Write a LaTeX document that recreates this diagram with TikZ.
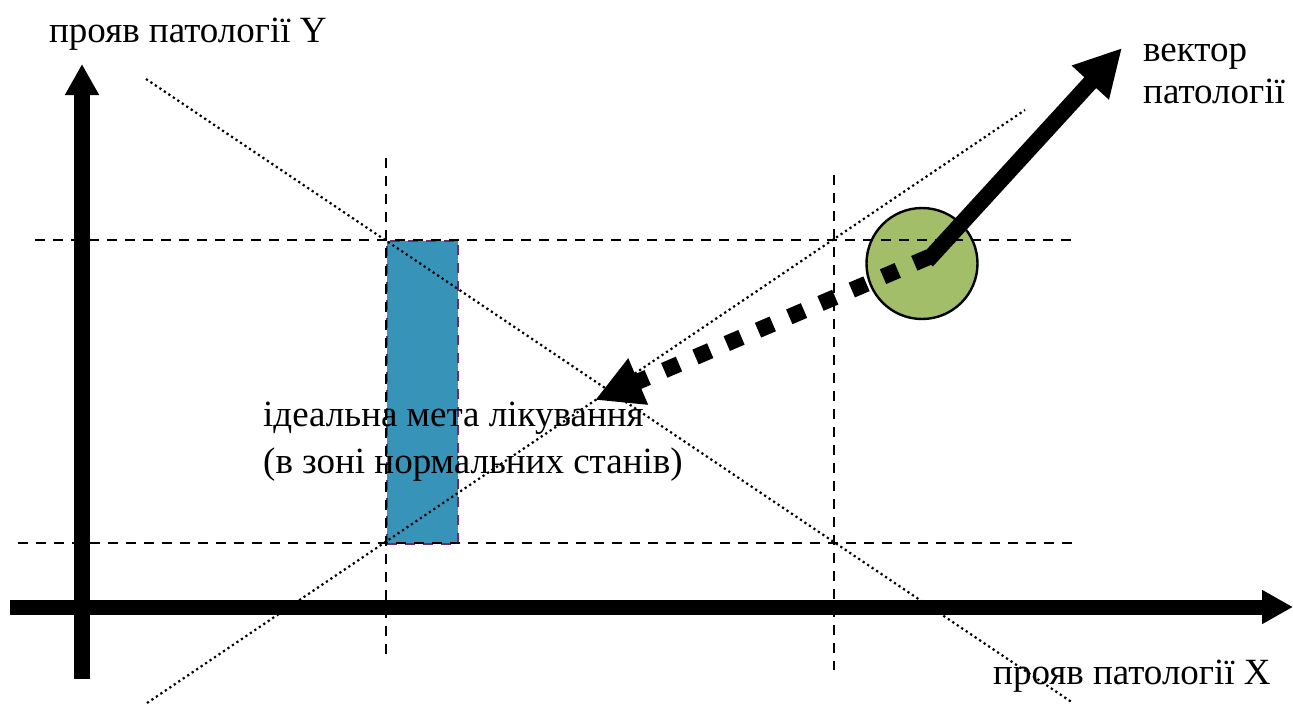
\documentclass[tikz,border=0pt]{standalone}
\usepackage{fontspec}
\setmainfont{Liberation Serif}
\usetikzlibrary{arrows.meta}
\definecolor{zoneblue}{RGB}{56,147,184}
\definecolor{zoneborder}{RGB}{112,40,110}
\definecolor{stategreen}{RGB}{162,190,105}
\begin{document}
\begin{tikzpicture}[x=1pt,y=-1pt,
  guide/.style={line width=2pt, dash pattern=on 10pt off 8pt},
  diag/.style={line width=2.2pt, dash pattern=on 2.2pt off 3.2pt},
  axisline/.style={line width=16pt, line cap=butt, -{Triangle[length=31pt,width=32pt]}},
  vecline/.style={line width=16pt, line cap=butt, -{Triangle[length=47pt,width=47pt]}},
  lbl/.style={font=\fontsize{37}{40}\selectfont, inner sep=0pt, align=left}
]
\useasboundingbox (0,0) rectangle (1293,704);
% normal zone
\node[fill=zoneblue, draw=zoneborder, line width=2pt, dash pattern=on 10pt off 8pt,
      minimum width=71pt, minimum height=303pt, inner sep=0pt, anchor=north west] (zone) at (386,240) {};
% circle (state)
\node[circle, draw, line width=2.4pt, fill=stategreen, minimum size=111pt, inner sep=0pt] (st) at (922,263.5) {};
% guide coordinates
\coordinate (h1a) at (35,240);  \coordinate (h1b) at (1075,240);
\coordinate (h2a) at (18,543);  \coordinate (h2b) at (1075,543);
\coordinate (v1a) at (386,158); \coordinate (v1b) at (386,660);
\coordinate (v2a) at (834,175); \coordinate (v2b) at (834,670);
\draw[guide] (h1a) -- (h1b);
\draw[guide] (h2a) -- (h2b);
\draw[guide] (v1a) -- (v1b);
\draw[guide] (v2a) -- (v2b);
% diagonals
\coordinate (d1a) at (146,79);  \coordinate (d1b) at (1073,703);
\coordinate (d2a) at (147,703); \coordinate (d2b) at (1025,110);
\draw[diag] (d1a) -- (d1b);
\draw[diag] (d2a) -- (d2b);
% axes
\coordinate (ya) at (82,679); \coordinate (yb) at (82,64);
\coordinate (xa) at (10,607); \coordinate (xb) at (1293,607);
\draw[axisline] (ya) -- (yb);
\draw[axisline, line width=15pt] (xa) -- (xb);
% vectors
\coordinate (vs) at (927,261); \coordinate (vt) at (1122,48);
\coordinate (ts) at (929,257); \coordinate (tt) at (595,400);
\draw[vecline] (vs) -- (vt);
\draw[vecline, dash pattern=on 16pt off 18pt] (ts) -- (tt);
% labels
\node[lbl, anchor=base west] (ylab) at (49,42) {прояв патології Y};
\node[lbl, anchor=base west] (xlab) at (993,684) {прояв патології X};
\node[lbl, font=\fontsize{37}{42}\selectfont, anchor=base west] (vlab) at (1143,103) {вектор\\патології};
\node[lbl, font=\fontsize{37}{47}\selectfont, anchor=base west] (goal) at (263,473) {ідеальна мета лікування\\(в зоні нормальних станів)};
\end{tikzpicture}
\end{document}
